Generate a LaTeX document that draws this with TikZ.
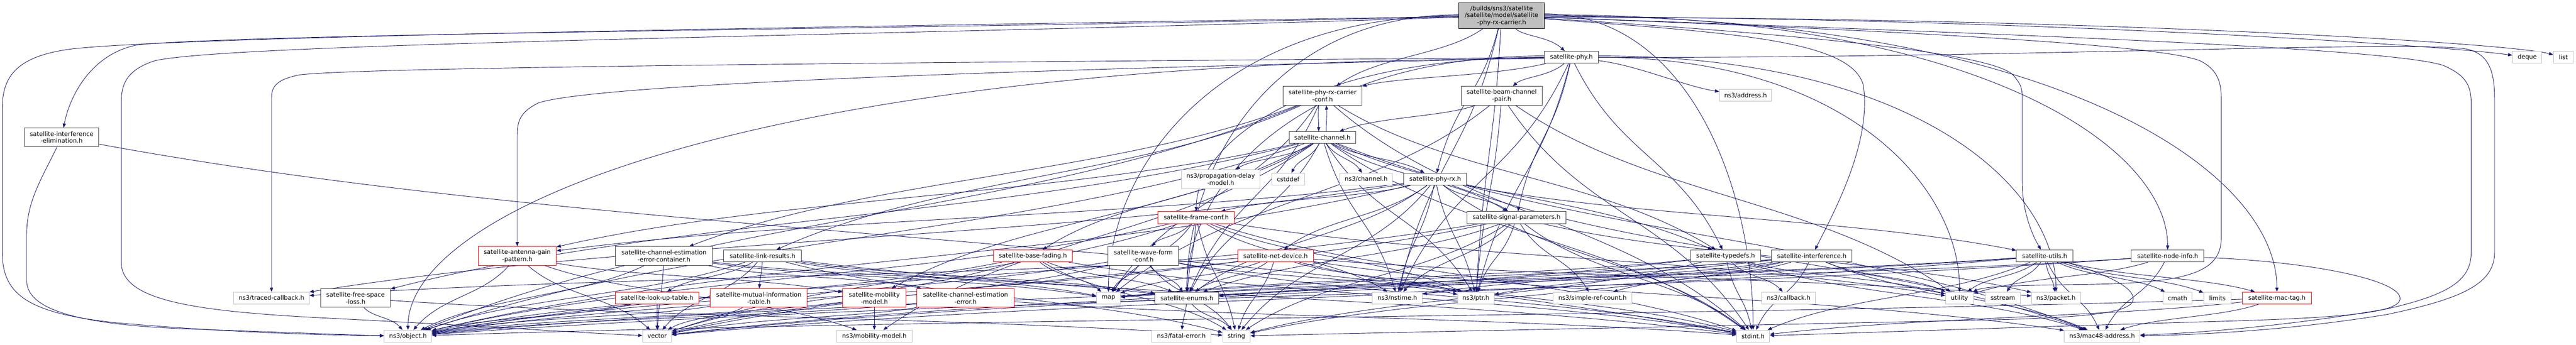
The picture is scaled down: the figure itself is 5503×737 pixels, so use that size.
\documentclass[tikz,border=0pt]{standalone}
\usepackage{fontspec}
\setmainfont{DejaVu Sans}
\usetikzlibrary{arrows.meta,calc,backgrounds}
\definecolor{edgec}{HTML}{191970}
\definecolor{extc}{HTML}{BFBFBF}
\definecolor{docc}{HTML}{404040}
\definecolor{mainfill}{HTML}{BFBFBF}
\tikzset{
 box/.style={draw, fill=white, rectangle, inner sep=0pt, minimum height=25.5pt, line width=1.1pt, font=\fontsize{13}{15}\selectfont, align=center},
 docbox/.style={box, draw=docc},
 redbox/.style={box, draw=red},
 extbox/.style={box, draw=extc},
 mainbox/.style={box, draw=black, fill=mainfill, minimum height=55pt},
 two/.style={minimum height=40pt},
 dep/.style={draw=edgec, line width=1pt, -{Triangle[length=9pt,width=7pt]}},
}
% mild S-curve from node to node
\newcommand{\inc}[2]{\draw[dep] let \p1=(#1.center), \p2=(#2.center) in (#1) .. controls ({0.68*\x1+0.32*\x2},{0.5*\y1+0.5*\y2}) and ({0.32*\x1+0.68*\x2},{0.5*\y1+0.5*\y2}) .. (#2);}
% edge leaving a node side horizontally, arriving from above
\newcommand{\hinc}[4]{\draw[dep] let \p1=([yshift=#4]#1.#3), \p2=(#2.center) in ([yshift=#4]#1.#3) .. controls ({0.3*\x1+0.7*\x2},\y1) and (\x2,{0.45*\y1+0.55*\y2}) .. (#2);}
\begin{document}
\begin{tikzpicture}[x=1pt,y=-1pt]
\useasboundingbox (0,0) rectangle (5503,737);
% rank 0
\node[mainbox, minimum width=181.7pt] (main) at (3207.7,33.5) {/builds/sns3/satellite\\/satellite/model/satellite\\-phy-rx-carrier.h};
% rank 1
\node[docbox, minimum width=115.6pt] (phy) at (3356.9,122.5) {satellite-phy.h};
\node[extbox, minimum width=62.7pt] (deque) at (5398.7,122.5) {deque};
\node[extbox, minimum width=42.3pt] (list) at (5476,122.5) {list};
% rank 2
\node[docbox, two, minimum width=169pt] (rxcconf) at (2825.2,204.7) {satellite-phy-rx-carrier\\-conf.h};
\node[docbox, two, minimum width=173pt] (beampair) at (3208,204.7) {satellite-beam-channel\\-pair.h};
\node[extbox, minimum width=111.6pt] (address) at (3729,204) {ns3/address.h};
% rank 3
\node[docbox, two, minimum width=159pt] (ifelim) at (131.7,293.6) {satellite-interference\\-elimination.h};
\node[docbox, minimum width=142pt] (channel) at (2825,294) {satellite-channel.h};
% rank 4
\node[extbox, two, minimum width=168pt] (propdelay) at (2607.7,383) {ns3/propagation-delay\\-model.h};
\node[extbox, minimum width=70.5pt] (cstddef) at (2751.8,383) {cstddef};
\node[extbox, minimum width=112pt] (ns3channel) at (2918.5,383) {ns3/channel.h};
\node[docbox, minimum width=134.4pt] (phyrx) at (3066,383) {satellite-phy-rx.h};
% rank 5
\node[redbox, minimum width=163pt] (frameconf) at (2555.5,465) {satellite-frame-conf.h};
\node[docbox, minimum width=210.7pt] (sigparams) at (3239.7,465) {satellite-signal-parameters.h};
% rank 6
\node[redbox, two, minimum width=167pt] (antenna) at (1105,547) {satellite-antenna-gain\\-pattern.h};
\node[docbox, two, minimum width=207pt] (chestcont) at (1418.5,547) {satellite-channel-estimation\\-error-container.h};
\node[docbox, minimum width=166pt] (linkres) at (1629,547) {satellite-link-results.h};
\node[redbox, minimum width=169pt] (basefading) at (2206.5,547) {satellite-base-fading.h};
\node[docbox, two, minimum width=151pt] (waveform) at (2442.4,547) {satellite-wave-form\\-conf.h};
\node[redbox, minimum width=161.6pt] (netdev) at (2725,547) {satellite-net-device.h};
\node[docbox, minimum width=149.5pt] (typedefs) at (3686.3,547) {satellite-typedefs.h};
\node[docbox, minimum width=171.4pt] (interference) at (3870.5,547) {satellite-interference.h};
\node[docbox, minimum width=120.5pt] (utils) at (4367.8,547) {satellite-utils.h};
\node[docbox, minimum width=155pt] (nodeinfo) at (4630.6,547) {satellite-node-info.h};
% rank 7
\node[extbox, minimum width=161pt] (tracedcb) at (580,637) {ns3/traced-callback.h};
\node[docbox, two, minimum width=149pt] (freespace) at (759.6,637) {satellite-free-space\\-loss.h};
\node[redbox, minimum width=178pt] (lut) at (1403.8,637) {satellite-look-up-table.h};
\node[redbox, two, minimum width=207pt] (mutinfo) at (1621,637) {satellite-mutual-information\\-table.h};
\node[redbox, two, minimum width=135pt] (satmob) at (1867.8,637) {satellite-mobility\\-model.h};
\node[redbox, two, minimum width=207pt] (chesterr) at (2062.5,637) {satellite-channel-estimation\\-error.h};
\node[extbox, minimum width=51pt] (map) at (2367.9,637) {map};
\node[docbox, minimum width=136pt] (enums) at (2535.5,637) {satellite-enums.h};
\node[extbox, minimum width=107pt] (nstime) at (2985,637) {ns3/nstime.h};
\node[extbox, minimum width=78pt] (ptr) at (3152.9,637) {ns3/ptr.h};
\node[extbox, minimum width=168pt] (simpleref) at (3402,637) {ns3/simple-ref-count.h};
\node[extbox, minimum width=114.7pt] (callback) at (3821,637) {ns3/callback.h};
\node[extbox, minimum width=60pt] (utility) at (4186,637) {utility};
\node[extbox, minimum width=75pt] (sstream) at (4278.6,637) {sstream};
\node[extbox, minimum width=104.5pt] (packet) at (4392,637) {ns3/packet.h};
\node[extbox, minimum width=62.5pt] (cmath) at (4651.7,637) {cmath};
\node[extbox, minimum width=59pt] (limits) at (4737,637) {limits};
\node[redbox, minimum width=146.7pt] (mactag) at (4864,637) {satellite-mac-tag.h};
% rank 8
\node[extbox, minimum width=101pt] (object) at (871.5,718.5) {ns3/object.h};
\node[extbox, minimum width=62pt] (vector) at (1403.8,718.5) {vector};
\node[extbox, minimum width=161.6pt] (ns3mob) at (1867.8,718.5) {ns3/mobility-model.h};
\node[extbox, minimum width=126pt] (fatalerror) at (2523.6,718.5) {ns3/fatal-error.h};
\node[extbox, minimum width=58.5pt] (string) at (2641.3,718.5) {string};
\node[extbox, minimum width=70.5pt] (stdint) at (3745,718.5) {stdint.h};
\node[extbox, minimum width=161.6pt] (mac48) at (4490.6,718.5) {ns3/mac48-address.h};

\begin{pgfonlayer}{background}
\fill[white] (0,0) rectangle (5503,737);
\foreach \a/\b in {
 main/phy, main/rxcconf, main/phyrx, main/ptr, main/nstime,
 phy/rxcconf, phy/beampair, phy/sigparams, phy/nstime, phy/typedefs, phy/ptr,
 rxcconf/linkres, rxcconf/chestcont, rxcconf/enums, rxcconf/typedefs, rxcconf/object, rxcconf/stdint, rxcconf/map,
 beampair/channel, beampair/map, beampair/stdint, beampair/utility, beampair/ptr,
 channel/phyrx, channel/ns3channel, channel/propdelay, channel/cstddef, channel/sigparams, channel/nstime, channel/basefading, channel/freespace, channel/antenna, channel/satmob, channel/ns3mob, channel/enums, channel/typedefs, channel/object, channel/ptr, channel/stdint, channel/mac48,
 phyrx/sigparams, phyrx/nstime, phyrx/ptr, phyrx/object, phyrx/frameconf, phyrx/antenna, phyrx/netdev, phyrx/utils, phyrx/tracedcb, phyrx/mac48, phyrx/enums, phyrx/stdint, phyrx/string,
 sigparams/nstime, sigparams/ptr, sigparams/simpleref, sigparams/object, sigparams/enums, sigparams/stdint, sigparams/string, sigparams/packet, sigparams/vector,
 frameconf/waveform, frameconf/enums, frameconf/string, frameconf/map, frameconf/vector, frameconf/stdint, frameconf/object, frameconf/ptr, frameconf/nstime, frameconf/utility,
 antenna/object, antenna/vector, antenna/ns3mob, antenna/satmob,
 chestcont/chesterr, chestcont/object, chestcont/enums, chestcont/map, chestcont/vector,
 linkres/lut, linkres/mutinfo, linkres/object, linkres/enums, linkres/vector, linkres/map, linkres/string, linkres/stdint,
 basefading/object, basefading/enums, basefading/string, basefading/stdint, basefading/map, basefading/vector,
 waveform/map, waveform/enums, waveform/string, waveform/vector, waveform/object, waveform/stdint, waveform/ptr,
 netdev/enums, netdev/string, netdev/stdint, netdev/map, netdev/object, netdev/mac48, netdev/packet, netdev/tracedcb, netdev/ptr,
 typedefs/callback, typedefs/stdint, typedefs/string, typedefs/utility, typedefs/map, typedefs/vector, typedefs/mac48,
 interference/stdint, interference/utility, interference/object, interference/ptr, interference/nstime, interference/vector, interference/map, interference/string, interference/mac48, interference/simpleref,
 utils/sstream, utils/packet, utils/utility, utils/cmath, utils/limits, utils/mactag, utils/mac48, utils/stdint, utils/vector, utils/map, utils/enums,
 nodeinfo/mac48, nodeinfo/object, nodeinfo/enums, nodeinfo/utility,
 ifelim/stdint, freespace/object, freespace/string, lut/vector, lut/object, mutinfo/vector, mutinfo/object,
 satmob/ns3mob, satmob/object, chesterr/object, chesterr/vector, chesterr/stdint,
 enums/fatalerror, enums/string, mactag/mac48, mactag/object, mactag/stdint}
 {\inc{\a}{\b}}
% side-leaving long edges
\foreach \a/\b/\s/\d in {
 main/nodeinfo/east/2pt, main/mactag/east/0pt, main/stdint/east/4pt,
 main/enums/west/2pt, main/map/west/0pt,
 phy/utility/east/0pt, phy/packet/east/3pt,
 phy/object/west/-3pt, phy/frameconf/west/0pt, phy/enums/west/3pt}
 {\hinc{\a}{\b}{\s}{\d}}
% nearly horizontal edges to the right
\draw[dep] ([yshift=-2pt]main.east) .. controls (4300,38) and (5200,95) .. (deque);
\draw[dep] ([yshift=-4pt]main.east) .. controls (4400,35) and (5350,90) .. (list);
\draw[dep] (phy) .. controls (3500,140) and (3600,185) .. (address);
% cycle between phy-rx-carrier-conf and channel
\draw[dep] ([xshift=-8pt]rxcconf.south) .. controls +(-2,25) and +(0,-25) .. ([xshift=-8pt]channel.north);
\draw[dep] ([xshift=8pt]channel.north) .. controls +(0,-25) and +(2,25) .. ([xshift=8pt]rxcconf.south);
% long routed edges
\draw[dep] (main) .. controls (2000,62) and (600,70) .. (300,95) .. controls (200,110) and (150,200) .. (ifelim);
\draw[dep] (main) .. controls (2000,55) and (400,75) .. (150,105) .. controls (40,120) and (5,160) .. (5,230) -- (5,540) .. controls (5,630) and (60,670) .. (250,690) .. controls (500,712) and (700,716) .. (object);
\draw[dep] (ifelim) .. controls (90,380) and (57,430) .. (57,500) -- (57,600) .. controls (57,670) and (200,695) .. (400,703) .. controls (600,710) and (750,716) .. (object);
\draw[dep] (main) .. controls (2000,75) and (500,90) .. (330,130) .. controls (270,150) and (259,180) .. (259,220) -- (259,560) .. controls (259,640) and (400,665) .. (700,680) .. controls (1000,695) and (1250,712) .. (vector);
\draw[dep] (phy) .. controls (2500,130) and (800,140) .. (640,160) .. controls (590,170) and (580,185) .. (580,210) -- (tracedcb);
\draw[dep] (phy) .. controls (2600,140) and (1300,170) .. (1150,220) .. controls (1110,240) and (1105,260) .. (1105,290) -- (antenna);
\draw[dep] (main) .. controls (3700,70) and (3950,85) .. (3980,180) .. controls (4000,300) and (3920,450) .. (interference);
\draw[dep] (main) .. controls (3800,70) and (4250,110) .. (4300,160) .. controls (4318,180) and (4320,190) .. (4320,210) -- (4320,390) .. controls (4320,450) and (4340,500) .. (utils);
\draw[dep] (main) .. controls (3900,60) and (4600,90) .. (4700,130) .. controls (4740,150) and (4745,180) .. (4745,210) -- (4745,510) .. controls (4745,590) and (4650,605) .. (4450,608) .. controls (4300,610) and (4240,612) .. (utility);
\draw[dep] (main) .. controls (4200,70) and (5100,100) .. (5220,140) .. controls (5265,160) and (5279,180) .. (5279,220) -- (5279,540) .. controls (5279,600) and (5230,630) .. (5100,660) .. controls (4900,695) and (4700,712) .. (mac48);
\draw[dep] (phy) .. controls (4300,125) and (5150,85) .. (5270,105) .. controls (5315,115) and (5329,150) .. (5329,210) -- (5329,540) .. controls (5329,610) and (5250,640) .. (5100,672) .. controls (4900,705) and (4700,716) .. (mac48);
\draw[dep] (utils) .. controls (4480,580) and (4560,610) .. (4557,640) .. controls (4555,670) and (4450,680) .. (4200,685) .. controls (3500,700) and (2900,712) .. (string);
\draw[dep] (nodeinfo) .. controls (4950,560) and (5125,600) .. (5127,637) .. controls (5130,670) and (5000,680) .. (4700,688) .. controls (4300,700) and (3950,712) .. (stdint);
\end{pgfonlayer}
\end{tikzpicture}
\end{document}
